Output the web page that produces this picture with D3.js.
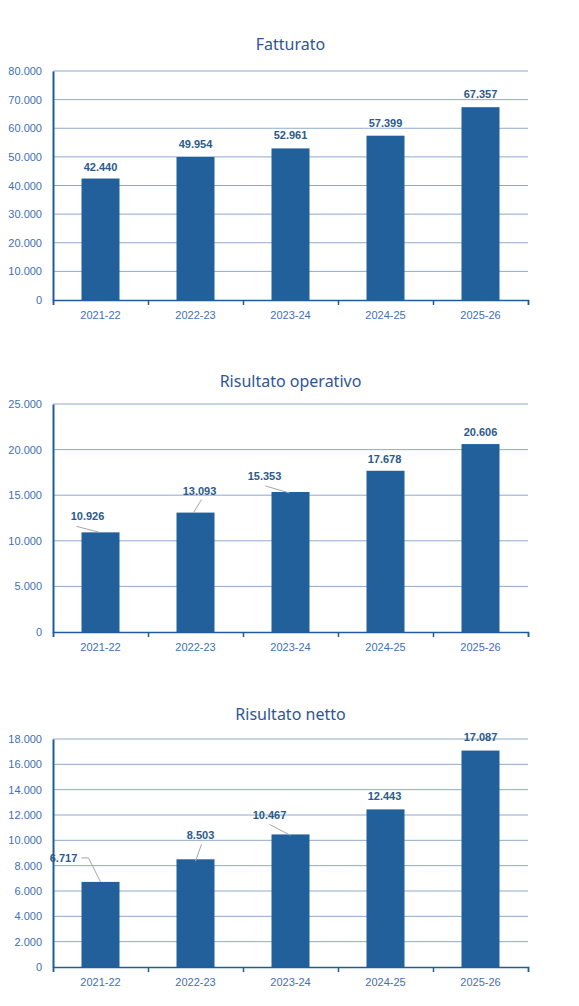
<!DOCTYPE html>
<html lang="it">
<head>
<meta charset="UTF-8">
<script src="https://d3js.org/d3.v7.min.js"></script>
<style>
  body { margin: 0; background: #fff; }
  text { font-family: "Liberation Sans", Arial, sans-serif; }
  .title { font-family: "Noto Sans", sans-serif; font-size: 16px; fill: #2f5597; }
</style>
</head>
<body>
<svg id="chart" width="579" height="1006"></svg>
<script>
// dati
const anni = ["2021-22", "2022-23", "2023-24", "2024-25", "2025-26"];
const fatturato = [42440, 49954, 52961, 57399, 67357];
const risultatoOperativo = [10926, 13093, 15353, 17678, 20606];
const risultatoNetto = [6717, 8503, 10467, 12443, 17087];
const titoli = ["Fatturato", "Risultato operativo", "Risultato netto"];
const maxAssi = [80000, 25000, 18000];
const passiAssi = [10000, 5000, 2000];

const it = d3.formatLocale({ decimal: ",", thousands: ".", grouping: [3], currency: ["€", ""] });
const fmt = it.format(",d");

const svg = d3.select("#chart");
const left = 53, right = 528;

// posizione etichette (dx, dy rispetto alla cima della barra) e linee guida
const etichette = [
  [{dx: 0, dy: -8}, {dx: 0, dy: -9}, {dx: 0, dy: -9}, {dx: 0, dy: -9}, {dx: 0, dy: -9}],
  [
    {dx: -13, dy: -12, line: [[-24, -6], [-1, 0]]},
    {dx: 4, dy: -18, line: [[6, -13], [-2, 0]]},
    {dx: -26, dy: -12, line: [[-25, -6], [-1, 1]]},
    {dx: -1, dy: -8},
    {dx: 0, dy: -8}
  ],
  [
    {dx: -37, dy: -20, line: [[-19, -24], [-12, -24], [0, 0]]},
    {dx: 5, dy: -20, line: [[6, -15], [0, 2]]},
    {dx: -21, dy: -15, line: [[-21, -10], [0, 1]]},
    {dx: -1, dy: -9},
    {dx: 0, dy: -10}
  ]
];

const pannelli = [
  { values: fatturato, top: 71, bottom: 300, titleY: 50 },
  { values: risultatoOperativo, top: 404, bottom: 632, titleY: 387 },
  { values: risultatoNetto, top: 739, bottom: 967, titleY: 720 }
];

pannelli.forEach((p, k) => {
  const g = svg.append("g");

  const x = d3.scaleBand().domain(anni).range([left, right])
    .paddingInner(0.6).paddingOuter(0.3);
  const y = d3.scaleLinear().domain([0, maxAssi[k]]).range([p.bottom, p.top]);
  const ticks = d3.range(0, maxAssi[k] + 1, passiAssi[k]);

  g.append("text").attr("class", "title")
    .attr("x", (left + right) / 2).attr("y", p.titleY)
    .attr("text-anchor", "middle").text(titoli[k]);

  // griglia
  g.append("g").selectAll("line").data(ticks.slice(1)).join("line")
    .attr("x1", left).attr("x2", right)
    .attr("y1", d => y(d)).attr("y2", d => y(d))
    .attr("stroke", "#8eaacb").attr("stroke-width", 1);

  // asse y
  const ay = g.append("g").attr("transform", `translate(${left},0)`)
    .call(d3.axisLeft(y).tickValues(ticks).tickSize(0).tickPadding(11).tickFormat(fmt));
  ay.select(".domain").attr("stroke", "#1f5c99").attr("stroke-width", 2);
  ay.selectAll("text").attr("fill", "#3f6fb5").style("font-size", "11px");

  // barre
  g.append("g").selectAll("rect").data(p.values).join("rect")
    .attr("x", (d, i) => x(anni[i]))
    .attr("y", d => y(d))
    .attr("width", x.bandwidth())
    .attr("height", d => p.bottom - y(d))
    .attr("fill", "#21609b");

  // asse x
  const xb = d3.scaleLinear().domain([0, anni.length]).range([left, right]);
  const ax = g.append("g").attr("transform", `translate(0,${p.bottom})`)
    .call(d3.axisBottom(xb).tickValues(d3.range(0, anni.length + 1)).tickSize(5).tickFormat(""));
  ax.select(".domain").attr("stroke", "#1f5c99").attr("stroke-width", 1.5);
  ax.selectAll(".tick line").attr("stroke", "#1f5c99").attr("stroke-width", 1.5);

  const axl = g.append("g").attr("transform", `translate(0,${p.bottom})`)
    .call(d3.axisBottom(x).tickSize(0).tickPadding(11));
  axl.select(".domain").remove();
  axl.selectAll("text").attr("fill", "#3f6fb5").style("font-size", "11px");

  // linee guida
  const cx = i => x(anni[i]) + x.bandwidth() / 2;
  g.append("g").selectAll("polyline")
    .data(p.values.map((v, i) => ({v, i, e: etichette[k][i]})).filter(d => d.e.line))
    .join("polyline")
    .attr("points", d => d.e.line.map(([a, b]) => `${cx(d.i) + a},${y(d.v) + b}`).join(" "))
    .attr("fill", "none").attr("stroke", "#a6a6a6").attr("stroke-width", 1);

  // etichette valori
  g.append("g").selectAll("text").data(p.values).join("text")
    .attr("x", (d, i) => cx(i) + etichette[k][i].dx)
    .attr("y", (d, i) => y(d) + etichette[k][i].dy)
    .attr("text-anchor", "middle")
    .style("font-size", "11px").style("font-weight", "bold")
    .attr("fill", "#2b5a8c")
    .text(d => fmt(d));
});
</script>
</body>
</html>
